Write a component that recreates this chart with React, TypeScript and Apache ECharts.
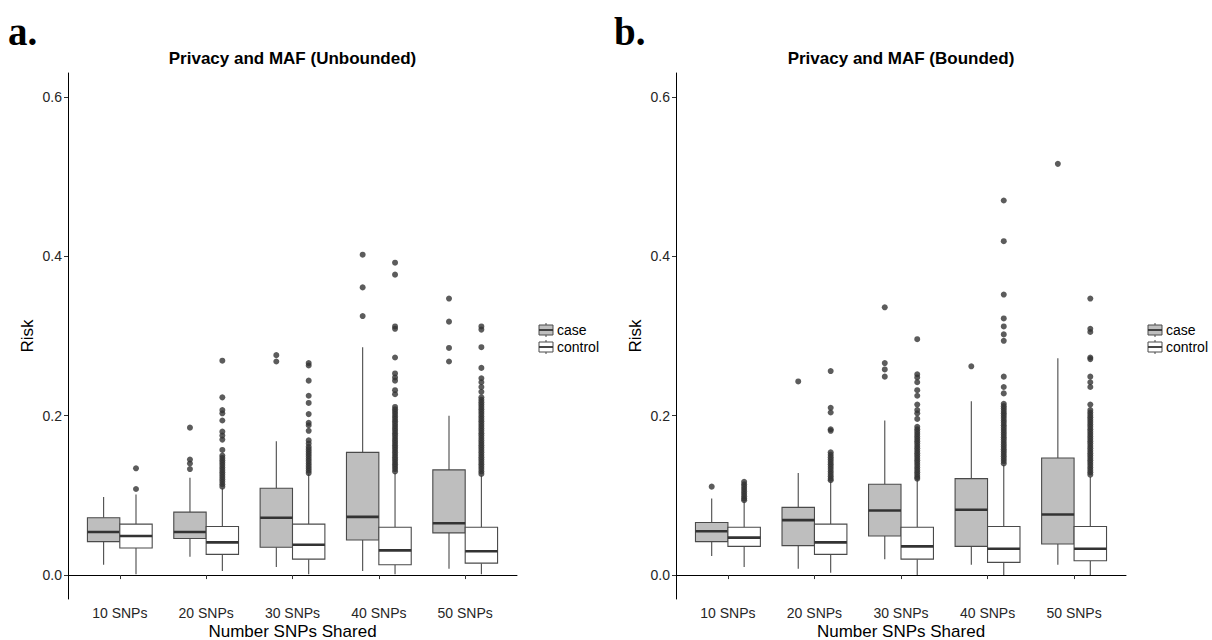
import React, { useEffect, useRef } from "react";
import * as echarts from "echarts";

const categories = ["10 SNPs", "20 SNPs", "30 SNPs", "40 SNPs", "50 SNPs"];
const groups = ["case", "control"];
const yTicks = [0, 0.2, 0.4, 0.6];
const panelTitles = ["Privacy and MAF (Unbounded)", "Privacy and MAF (Bounded)"];
const panelTags = ["a.", "b."];
const xTitle = "Number SNPs Shared";
const yTitle = "Risk";

// box stats per category: [lower whisker, Q1, median, Q3, upper whisker]
const unboundedCase = [
  [0.013, 0.042, 0.054, 0.072, 0.098],
  [0.023, 0.046, 0.054, 0.079, 0.122],
  [0.010, 0.035, 0.072, 0.109, 0.168],
  [0.005, 0.044, 0.073, 0.154, 0.286],
  [0.008, 0.053, 0.065, 0.132, 0.200],
];
const unboundedControl = [
  [0.001, 0.034, 0.049, 0.064, 0.101],
  [0.005, 0.026, 0.041, 0.061, 0.109],
  [0.001, 0.020, 0.038, 0.064, 0.127],
  [0.001, 0.013, 0.031, 0.060, 0.128],
  [0.001, 0.015, 0.030, 0.060, 0.125],
];
const boundedCase = [
  [0.024, 0.042, 0.055, 0.066, 0.096],
  [0.008, 0.037, 0.069, 0.085, 0.128],
  [0.020, 0.049, 0.081, 0.114, 0.194],
  [0.013, 0.036, 0.082, 0.121, 0.218],
  [0.013, 0.039, 0.076, 0.147, 0.272],
];
const boundedControl = [
  [0.010, 0.036, 0.047, 0.060, 0.092],
  [0.003, 0.026, 0.041, 0.064, 0.117],
  [0.000, 0.020, 0.036, 0.060, 0.120],
  [0.000, 0.016, 0.033, 0.061, 0.138],
  [0.000, 0.018, 0.033, 0.061, 0.123],
];

// outliers per category
const unboundedCaseOut = [
  [],
  [0.185, 0.145, 0.140, 0.133],
  [0.276, 0.268],
  [0.402, 0.361, 0.325],
  [0.347, 0.318, 0.285, 0.268],
];
const unboundedControlOut = [
  [0.134, 0.108],
  [0.269, 0.223, 0.207, 0.203, 0.194, 0.180, 0.175, 0.170, 0.157, 0.150, 0.147, 0.144, 0.141, 0.138, 0.135, 0.132, 0.129, 0.126, 0.123, 0.120, 0.117, 0.114, 0.111],
  [0.266, 0.263, 0.244, 0.225, 0.216, 0.202, 0.191, 0.188, 0.181, 0.169, 0.165, 0.161, 0.158, 0.155, 0.152, 0.149, 0.146, 0.143, 0.140, 0.137, 0.134, 0.131, 0.128],
  [0.392, 0.377, 0.312, 0.309, 0.273, 0.253, 0.248, 0.244, 0.232, 0.227, 0.211, 0.208, 0.205, 0.202, 0.199, 0.196, 0.193, 0.190, 0.187, 0.184, 0.181, 0.178, 0.175, 0.172, 0.169, 0.166, 0.163, 0.160, 0.157, 0.154, 0.151, 0.148, 0.145, 0.142, 0.139, 0.136, 0.133, 0.130],
  [0.312, 0.308, 0.286, 0.260, 0.247, 0.242, 0.236, 0.230, 0.223, 0.220, 0.217, 0.214, 0.211, 0.208, 0.205, 0.202, 0.199, 0.196, 0.193, 0.190, 0.187, 0.184, 0.181, 0.178, 0.175, 0.172, 0.169, 0.166, 0.163, 0.160, 0.157, 0.154, 0.151, 0.148, 0.145, 0.142, 0.139, 0.136, 0.133, 0.130, 0.127],
];
const boundedCaseOut = [
  [0.111],
  [0.243],
  [0.336, 0.266, 0.258, 0.249],
  [0.262],
  [0.516],
];
const boundedControlOut = [
  [0.117, 0.114, 0.111, 0.108, 0.105, 0.102, 0.099, 0.096, 0.094],
  [0.256, 0.210, 0.204, 0.183, 0.181, 0.154, 0.151, 0.148, 0.145, 0.142, 0.139, 0.136, 0.133, 0.130, 0.127, 0.124, 0.121, 0.119],
  [0.296, 0.252, 0.248, 0.242, 0.232, 0.225, 0.214, 0.207, 0.203, 0.196, 0.186, 0.183, 0.180, 0.177, 0.174, 0.171, 0.168, 0.165, 0.162, 0.159, 0.156, 0.153, 0.150, 0.147, 0.144, 0.141, 0.138, 0.135, 0.132, 0.129, 0.126, 0.123, 0.121],
  [0.470, 0.419, 0.352, 0.322, 0.312, 0.302, 0.294, 0.249, 0.236, 0.228, 0.215, 0.212, 0.209, 0.206, 0.203, 0.200, 0.197, 0.194, 0.191, 0.188, 0.185, 0.182, 0.179, 0.176, 0.173, 0.170, 0.167, 0.164, 0.161, 0.158, 0.155, 0.152, 0.149, 0.146, 0.143, 0.140],
  [0.347, 0.309, 0.305, 0.273, 0.271, 0.249, 0.242, 0.236, 0.214, 0.207, 0.204, 0.201, 0.198, 0.195, 0.192, 0.189, 0.186, 0.183, 0.180, 0.177, 0.174, 0.171, 0.168, 0.165, 0.162, 0.159, 0.156, 0.153, 0.150, 0.147, 0.144, 0.141, 0.138, 0.135, 0.132, 0.129, 0.126],
];

const FONT = "'Liberation Sans', Arial, Helvetica, sans-serif";
const SERIF = "'Liberation Serif', 'DejaVu Serif', serif";
const FILLS = ["#bebebe", "#ffffff"];
const BOX_STROKE = "#4a4a4a";
const MEDIAN = "#333333";
const TEXT_DARK = "#262626";
const HALF = 0.1875; // half box width in category units
const OFFSETS = [-HALF, HALF];

const GRIDS = [
  { left: 68, top: 73, width: 449, height: 526 },
  { left: 676, top: 73, width: 450, height: 526 },
];

function renderBox(fill: string) {
  return (params: any, api: any) => {
    const x = api.value(0);
    const lo = api.value(1);
    const q1 = api.value(2);
    const med = api.value(3);
    const q3 = api.value(4);
    const hi = api.value(5);
    const pLeftTop = api.coord([x - HALF, q3]);
    const pRightBot = api.coord([x + HALF, q1]);
    const cx = api.coord([x, med])[0];
    const yMed = api.coord([x, med])[1];
    const yLo = api.coord([x, lo])[1];
    const yHi = api.coord([x, hi])[1];
    const lineStyle = { stroke: BOX_STROKE, lineWidth: 1.1 };
    return {
      type: "group",
      children: [
        { type: "line", shape: { x1: cx, y1: yHi, x2: cx, y2: pLeftTop[1] }, style: lineStyle },
        { type: "line", shape: { x1: cx, y1: pRightBot[1], x2: cx, y2: yLo }, style: lineStyle },
        {
          type: "rect",
          shape: {
            x: pLeftTop[0],
            y: pLeftTop[1],
            width: pRightBot[0] - pLeftTop[0],
            height: pRightBot[1] - pLeftTop[1],
          },
          style: { fill, stroke: BOX_STROKE, lineWidth: 1.1 },
        },
        {
          type: "line",
          shape: { x1: pLeftTop[0], y1: yMed, x2: pRightBot[0], y2: yMed },
          style: { stroke: MEDIAN, lineWidth: 2.6 },
        },
      ],
    };
  };
}

function legendKey(x: number, y: number, fill: string) {
  return {
    type: "group",
    children: [
      { type: "line", shape: { x1: x + 7, y1: y - 7, x2: x + 7, y2: y + 7 }, style: { stroke: BOX_STROKE, lineWidth: 1 } },
      { type: "rect", shape: { x, y: y - 5, width: 14, height: 10 }, style: { fill, stroke: BOX_STROKE, lineWidth: 1 } },
      { type: "line", shape: { x1: x, y1: y, x2: x + 14, y2: y }, style: { stroke: MEDIAN, lineWidth: 1.8 } },
    ],
  };
}

export default function App() {
  const ref = useRef<HTMLDivElement>(null);
  useEffect(() => {
    if (!ref.current) return;
    const chart = echarts.init(ref.current, null, { renderer: "svg" });
    const panels = [
      { stats: [unboundedCase, unboundedControl], outs: [unboundedCaseOut, unboundedControlOut] },
      { stats: [boundedCase, boundedControl], outs: [boundedCaseOut, boundedControlOut] },
    ];

    const xAxis: any[] = [];
    const yAxis: any[] = [];
    const series: any[] = [];
    const graphic: any[] = [];

    panels.forEach((panel, pi) => {
      xAxis.push({
        type: "value",
        gridIndex: pi,
        min: 0.4,
        max: 5.6,
        splitLine: { show: false },
        axisLine: { show: true, lineStyle: { color: "#000", width: 1 } },
        axisTick: {
          show: true,
          customValues: categories.map((_, i) => i + 1),
          length: 4,
          lineStyle: { color: "#333", width: 1 },
        },
        axisLabel: {
          customValues: categories.map((_, i) => i + 1),
          formatter: (v: number) => categories[Math.round(v) - 1] ?? "",
          fontSize: 14,
          fontFamily: FONT,
          color: TEXT_DARK,
          margin: 7,
        },
      });
      yAxis.push({
        type: "value",
        gridIndex: pi,
        min: -0.03,
        max: 0.63,
        splitLine: { show: false },
        axisLine: { show: true, lineStyle: { color: "#000", width: 1 } },
        axisTick: { show: true, customValues: yTicks, length: 4, lineStyle: { color: "#333", width: 1 } },
        axisLabel: {
          customValues: yTicks,
          formatter: (v: number) => v.toFixed(1),
          fontSize: 14,
          fontFamily: FONT,
          color: TEXT_DARK,
          margin: 6,
        },
      });

      groups.forEach((g, gi) => {
        const boxData = panel.stats[gi].map((s, ci) => [ci + 1 + OFFSETS[gi], ...s]);
        series.push({
          type: "custom",
          name: g,
          xAxisIndex: pi,
          yAxisIndex: pi,
          renderItem: renderBox(FILLS[gi]),
          encode: { x: 0, y: [1, 2, 3, 4, 5] },
          data: boxData,
          z: 2,
        });
        const outData: number[][] = [];
        panel.outs[gi].forEach((arr, ci) => {
          arr.forEach((v) => outData.push([ci + 1 + OFFSETS[gi], v]));
        });
        series.push({
          type: "scatter",
          name: g + " outliers",
          xAxisIndex: pi,
          yAxisIndex: pi,
          symbol: "circle",
          symbolSize: 6,
          itemStyle: { color: "#333333" },
          data: outData,
          z: 3,
        });
      });

      const G = GRIDS[pi];
      const cx = G.left + G.width / 2;
      graphic.push({
        type: "text",
        x: pi === 0 ? 8 : 614,
        y: 31,
        style: { text: panelTags[pi], font: `bold 39px ${SERIF}`, fill: "#000", textAlign: "left", textVerticalAlign: "middle" },
      });
      graphic.push({
        type: "text",
        x: cx,
        y: 58,
        style: { text: panelTitles[pi], font: `bold 17px ${FONT}`, fill: "#000", textAlign: "center", textVerticalAlign: "middle" },
      });
      graphic.push({
        type: "text",
        x: cx,
        y: 631,
        style: { text: xTitle, font: `17px ${FONT}`, fill: "#000", textAlign: "center", textVerticalAlign: "middle" },
      });
      graphic.push({
        type: "text",
        x: G.left - 41,
        y: G.top + G.height / 2,
        rotation: Math.PI / 2,
        style: { text: yTitle, font: `17px ${FONT}`, fill: "#000", textAlign: "center", textVerticalAlign: "middle" },
      });
      const lx = G.left + G.width + 22;
      groups.forEach((g, gi) => {
        const ly = 330 + gi * 17;
        graphic.push(legendKey(lx, ly, FILLS[gi]));
        graphic.push({
          type: "text",
          x: lx + 18,
          y: ly,
          style: { text: g, font: `14px ${FONT}`, fill: "#000", textAlign: "left", textVerticalAlign: "middle" },
        });
      });
    });

    chart.setOption({
      animation: false,
      backgroundColor: "#ffffff",
      grid: GRIDS.map((g) => ({ ...g })),
      xAxis,
      yAxis,
      series,
      graphic,
    });
    return () => chart.dispose();
  }, []);

  return (
    <div
      ref={ref}
      style={{ position: "absolute", left: 0, top: 0, width: 1212, height: 640 }}
    />
  );
}
